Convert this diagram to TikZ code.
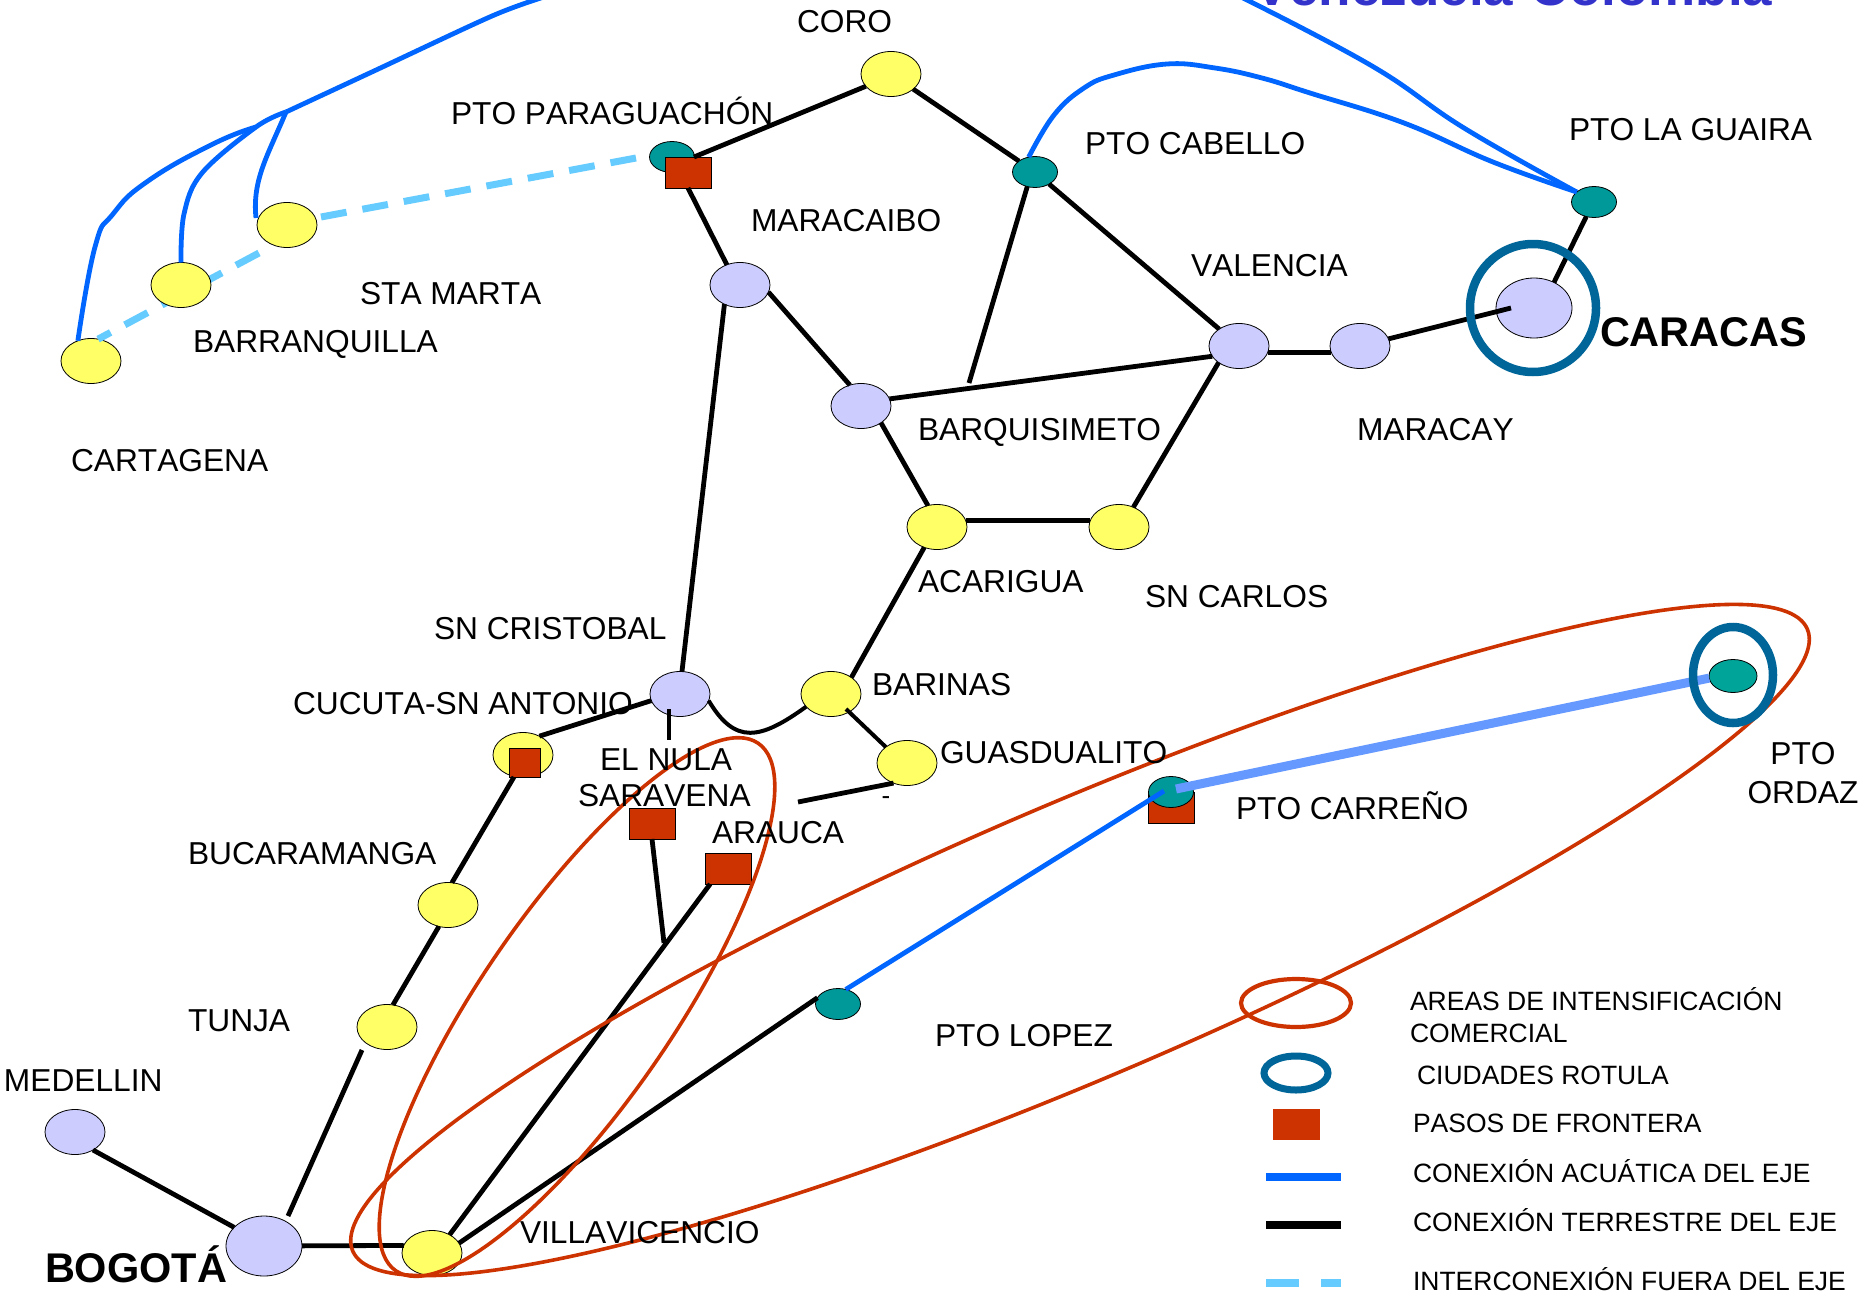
\documentclass[tikz,border=0pt]{standalone}
\usepackage{fontspec}
\setmainfont[Kerning=Off]{Liberation Sans}
\usetikzlibrary{shapes.geometric}
\definecolor{cyel}{HTML}{FFFF66}
\definecolor{clav}{HTML}{CCCCFF}
\definecolor{cteal}{HTML}{009999}
\definecolor{cteal2}{HTML}{00A499}
\definecolor{cred}{HTML}{CC3300}
\definecolor{cwater}{HTML}{0066FF}
\definecolor{cring}{HTML}{006699}
\definecolor{cdash}{HTML}{66CCFF}
\definecolor{cthick}{HTML}{6699FF}
\definecolor{ctitle}{HTML}{3333CC}
\tikzset{
 cityyel/.style={ellipse,draw=black,line width=.8pt,fill=cyel,inner sep=0pt,outer sep=0pt,minimum width=60pt,minimum height=45pt},
 citylav/.style={cityyel,fill=clav},
 bigcity/.style={citylav,minimum width=76pt,minimum height=60pt},
 portnode/.style={cityyel,fill=cteal,minimum width=45pt,minimum height=31pt},
 borderbox/.style={rectangle,draw=black,line width=.8pt,fill=cred,inner sep=0pt,outer sep=0pt,minimum width=46pt,minimum height=31pt},
 road/.style={draw=black,line width=4.8pt},
 water/.style={draw=cwater,line width=4.8pt},
 ferry/.style={draw=cthick,line width=9pt},
 extern/.style={draw=cdash,line width=7pt,dash pattern=on 26pt off 16.07pt},
 area/.style={draw=cred,line width=3.6pt},
 ringmark/.style={draw=cring,line width=8.5pt},
 lab/.style={anchor=base west,inner sep=0pt,outer sep=0pt,font=\fontsize{31.7}{36}\selectfont},
 labbig/.style={lab,font=\fontsize{41.5}{46}\bfseries\selectfont},
 leg/.style={lab,font=\fontsize{26.5}{30}\selectfont},
}
\begin{document}
\begin{tikzpicture}[x=1pt,y=-1pt]
\useasboundingbox (0,0) rectangle (1860,1290);
% free ends
\coordinate (topL) at (544,-3);
\coordinate (topR) at (1241,-3);
\coordinate (j1) at (286,112);
\coordinate (j2) at (256,127);
\coordinate (stamIn) at (256,218);
\coordinate (dashS) at (259,253);
\coordinate (dashT) at (321,217);
\coordinate (dashP) at (636,158);
\coordinate (stubCab) at (969,383);
\coordinate (inCar) at (1511,308);
\coordinate (stubA) at (669,709);
\coordinate (stubB) at (669,740);
\coordinate (inBar) at (846,709);
\coordinate (stubG) at (798,802);
\coordinate (stubS) at (664,943);
\coordinate (inCarr) at (1164,791);
\coordinate (outCarr) at (1176,789);
\coordinate (dotG) at (886,804);
\coordinate (tunOut) at (362,1050);
\coordinate (bogIn) at (288,1216);
% cities
\node[cityyel] (stam) at (287,225) {};
\node[cityyel] (cart) at (91,361) {};
\node[portnode] (para) at (672,157) {};
\draw[extern] (dashT) -- (dashP);
\draw[extern] (dashS) -- (cart.72);
\node[cityyel] (barr) at (181,285) {};
\node[borderbox] (parasq) at (688,172.5) {};
\node[cityyel] (coro) at (891,74) {};
\node[citylav] (mara) at (740,285) {};
\node[citylav] (barq) at (861,406) {};
\node[cityyel] (acar) at (937,527) {};
\node[portnode] (cab) at (1035,172) {};
\node[portnode] (guai) at (1594,202) {};
\node[bigcity] (carac) at (1534,308) {};
\node[citylav] (val) at (1239,346) {};
\node[citylav] (may) at (1360,346) {};
\node[cityyel] (scar) at (1119,527) {};
\node[citylav] (scri) at (680,694) {};
\node[cityyel] (bari) at (831,694) {};
\node[cityyel] (cuc) at (523,755) {};
\node[borderbox,minimum width=31pt,minimum height=29pt] (cucsq) at (524.5,762.5) {};
\node[cityyel] (guas) at (907,763) {};
\node[borderbox] (sarav) at (652,823.5) {};
\node[borderbox] (arau) at (728,868.5) {};
\node[cityyel] (buca) at (448,905) {};
\node[cityyel] (tunj) at (387,1027) {};
\node[citylav] (med) at (75,1132) {};
\node[bigcity] (bog) at (264,1246) {};
\node[cityyel] (vil) at (432,1253) {};
\node[portnode] (lop) at (838,1004) {};
\node[borderbox] (carrsq) at (1171.5,807.5) {};
\node[portnode] (carr) at (1171,792) {};
\node[portnode,fill=cteal2,minimum width=48pt,minimum height=33pt] (ord) at (1733,676) {};
% roads
\draw[road] (coro.206) -- (parasq.69);
\draw[road] (coro) -- (cab);
\draw[road] (parasq.south) -- (mara.123);
\draw[road] (mara.-14) -- (barq.118);
\draw[road] (mara.-129) -- (scri.85);
\draw[road] (barq.14) -- (val.-159);
\draw[road] (barq.-40) -- (acar.113);
\draw[road] (cab.-118) -- (stubCab);
\draw[road] (cab) -- (val);
\draw[road] (val.-13) -- (may.193);
\draw[road] (may.14) -- (inCar);
\draw[road] (guai.-118) -- (carac.52);
\draw[road] (val.-141) -- (scar.54);
\draw[road] (acar.13) -- (scar.167);
\draw[road] (acar.-122) -- (bari.39);
\draw[road] (cuc.49) -- (scri.193);
\draw[road] (stubA) -- (stubB);
\draw[road,line width=4pt] (scri.-13) .. controls (735,745) and (760,740) .. (bari.207);
\draw[road,line width=4pt] (inBar) -- (guas.143);
\draw[road] (guas.-124) -- (stubG);
\draw[road] (cucsq.-126) -- (buca.80);
\draw[road] (buca.-113) -- (tunj.75);
\draw[road] (tunOut) -- (bogIn);
\draw[road] (med.-45) -- (bog.148);
\draw[road] (bog) -- (vil.165);
\draw[road] (sarav.south) -- (stubS);
\draw[road] (arau.-139) -- (vil.46);
\draw[road] (vil.20) -- (lop.163);
% water links
\draw[water] plot[smooth,tension=.5] coordinates {(topL) (492,16) (374,71) (j1)};
\draw[water] (j1) .. controls (268,155) and (252,180) .. (stamIn);
\draw[water] plot[smooth,tension=.6] coordinates {(j1) (j2) (202,173) (184,214) (barr.90)};
\draw[water] plot[smooth,tension=.8] coordinates {(j2) (213,144) (148,181) (113,214) (95,247) (cart.123)};
\draw[water] plot[smooth,tension=.7] coordinates {(topR) (1372,66) (1464,128) (guai.150)};
\draw[water] plot[smooth,tension=.7] coordinates {(cab.113) (1054,115) (1084,88) (1114,75) (1167,64) (1215,68) (1262,78) (1310,93) (1404,123) (1493,162) (guai.150)};
\draw[water] (lop.62) -- (inCarr);
\draw[ferry] (outCarr) -- (ord.185);
% areas and rings
\draw[area] (1080,940) ellipse [x radius=791,y radius=137,rotate=23.15];
\draw[area] (577,1007) ellipse [x radius=320,y radius=96,rotate=55.5];
\draw[ringmark] (1533,308) ellipse [x radius=63,y radius=64];
\draw[ringmark] (1733,675) ellipse [x radius=40,y radius=48];
% labels
\node[lab,font=\fontsize{53}{56}\bfseries\selectfont,text=ctitle] (title) at (1254,6) {Venezuela-Colombia};
\node[lab] (lcoro) at (797,33) {CORO};
\node[lab] (lpara) at (451,124) {PTO PARAGUACHÓN};
\node[lab] (lmara) at (751,231) {MARACAIBO};
\node[lab] (lstam) at (360,304) {STA MARTA};
\node[lab] (lbarr) at (193,352) {BARRANQUILLA};
\node[lab] (lcart) at (71,471) {CARTAGENA};
\node[lab] (lscri) at (434,639) {SN CRISTOBAL};
\node[lab] (lcab) at (1085,154) {PTO CABELLO};
\node[lab] (lval) at (1191,276) {VALENCIA};
\node[lab] (lgua) at (1569,140) {PTO LA GUAIRA};
\node[labbig] (lcar) at (1600,346) {CARACAS};
\node[lab] (lbarq) at (918,440) {BARQUISIMETO};
\node[lab] (lmay) at (1357,440) {MARACAY};
\node[lab] (lacar) at (918,592) {ACARIGUA};
\node[lab] (lscar) at (1145,607) {SN CARLOS};
\node[lab] (lcuc) at (293,714) {CUCUTA-SN ANTONIO};
\node[lab] (lbari) at (872,695) {BARINAS};
\node[lab] (lnula) at (600,770) {EL NULA};
\node[lab] (lsar) at (578,806) {SARAVENA};
\node[lab] (lara) at (712,843) {ARAUCA};
\node[lab] (lgds) at (940,763) {GUASDUALITO};
\node[lab,font=\fontsize{26}{30}\selectfont,anchor=base] (ldash) at (dotG) {-};
\node[lab] (lbuca) at (188,864) {BUCARAMANGA};
\node[lab] (ltun) at (188,1031) {TUNJA};
\node[lab] (lmed) at (4,1091) {MEDELLIN};
\node[labbig] (lbog) at (45,1282) {BOGOTÁ};
\node[lab] (lvil) at (520,1243) {VILLAVICENCIO};
\node[lab] (lcarr) at (1236,819) {PTO CARREÑO};
\node[lab] (llop) at (935,1046) {PTO LOPEZ};
\node[lab,anchor=base] (lord1) at (1803,764) {PTO};
\node[lab,anchor=base] (lord2) at (1803,803) {ORDAZ};
% legend
\draw[area,line width=4.2pt] (1296,1003) ellipse [x radius=55,y radius=24];
\draw[ringmark,line width=7pt] (1296,1073) ellipse [x radius=32,y radius=17];
\node[borderbox,draw=none,minimum width=47pt] (legbox) at (1296.5,1124.5) {};
\coordinate (lw1) at (1266,1177); \coordinate (lw2) at (1341,1177);
\coordinate (lr1) at (1266,1225); \coordinate (lr2) at (1341,1225);
\coordinate (ld1) at (1266,1283); \coordinate (ld2) at (1341,1283);
\draw[water,line width=8pt] (lw1) -- (lw2);
\draw[road,line width=8pt] (lr1) -- (lr2);
\draw[extern,line width=8.5pt,dash pattern=on 33pt off 22pt on 20pt off 30pt] (ld1) -- (ld2);
\node[leg] (la1) at (1410,1010) {AREAS DE INTENSIFICACIÓN};
\node[leg] (la2) at (1410,1042) {COMERCIAL};
\node[leg] (lb) at (1417,1084) {CIUDADES ROTULA};
\node[leg] (lc) at (1413,1132) {PASOS DE FRONTERA};
\node[leg] (ld) at (1413,1182) {CONEXIÓN ACUÁTICA DEL EJE};
\node[leg] (le) at (1413,1231) {CONEXIÓN TERRESTRE DEL EJE};
\node[leg] (lf) at (1413,1290) {INTERCONEXIÓN FUERA DEL EJE};
\end{tikzpicture}
\end{document}
